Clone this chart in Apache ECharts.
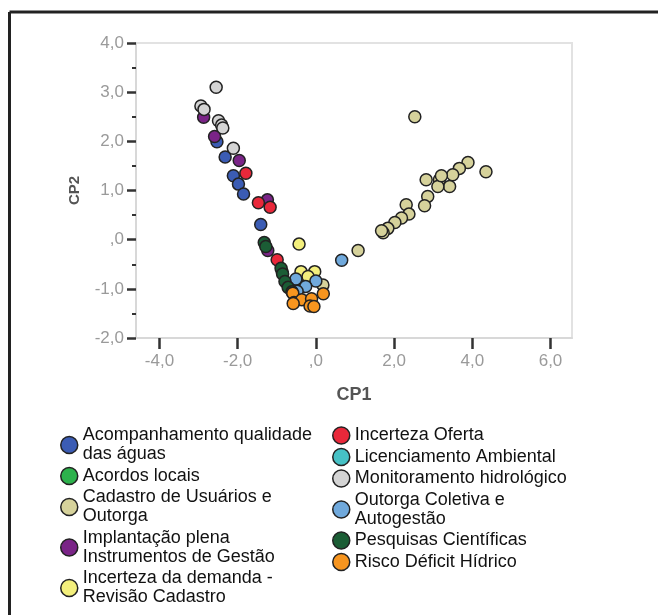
<!DOCTYPE html>
<html>
<head>
<meta charset="utf-8">
<script src="https://cdn.jsdelivr.net/npm/echarts@6/dist/echarts.min.js"></script>
<style>
  html, body { margin: 0; padding: 0; background: #fff; }
  #chart { width: 658px; height: 615px; }
</style>
</head>
<body>
<div id="chart"></div>
<script>
// CP1 / CP2 scores, one list per group
const acompanhamento = [[-2.53, 1.99], [-2.32, 1.68], [-2.11, 1.30], [-1.98, 1.13], [-1.85, 0.93], [-1.41, 0.31]]
const acordos = [[-0.86, -0.66]]
const cadastro = [
  [2.53, 2.50], [4.35, 1.38], [3.89, 1.57], [3.67, 1.45], [3.50, 1.32], [3.42, 1.08],
  [3.16, 1.22], [3.12, 1.08], [2.82, 1.22], [3.21, 1.30], [2.86, 0.88], [2.78, 0.69],
  [2.31, 0.71], [2.38, 0.52], [2.19, 0.44], [2.02, 0.35], [1.84, 0.23], [1.72, 0.14],
  [1.68, 0.18], [1.08, -0.22], [0.18, -0.92]
]
const implantacao = [[-2.87, 2.49], [-2.59, 2.10], [-1.96, 1.61], [-1.24, 0.81], [-1.23, -0.22]]
const incertezaDemanda = [[-0.43, -0.09], [-0.38, -0.65], [-0.03, -0.65], [-0.20, -0.75]]
const incertezaOferta = [[-1.79, 1.35], [-1.47, 0.75], [-1.17, 0.66], [-0.99, -0.41]]
const licenciamento = [[-0.30, -0.95]]
const monitoramento = [[-2.55, 3.10], [-2.94, 2.72], [-2.86, 2.65], [-2.49, 2.42], [-2.41, 2.33], [-2.38, 2.27], [-2.11, 1.86]]
const outorgaColetiva = [[-0.51, -0.80], [0.00, -0.84], [-0.26, -0.95], [-0.48, -1.05], [0.66, -0.42]]
const pesquisas = [[-1.32, -0.06], [-1.28, -0.14], [-0.89, -0.58], [-0.85, -0.70], [-0.79, -0.85], [-0.71, -0.97], [-0.61, -1.06]]
const risco = [[-0.59, -1.09], [-0.56, -1.28], [-0.36, -1.22], [-0.11, -1.20], [-0.15, -1.35], [-0.05, -1.36], [0.19, -1.10], [-0.58, -1.30]]

const xTicks = [-4, -2, 0, 2, 4, 6]

const groups = [
  { name: 'Acompanhamento qualidade das águas', label: 'Acompanhamento qualidade\ndas águas', color: '#3b5cb4', data: acompanhamento },
  { name: 'Acordos locais', label: 'Acordos locais', color: '#2db24c', data: acordos },
  { name: 'Cadastro de Usuários e Outorga', label: 'Cadastro de Usuários e\nOutorga', color: '#d6d29b', data: cadastro },
  { name: 'Implantação plena Instrumentos de Gestão', label: 'Implantação plena\nInstrumentos de Gestão', color: '#7a2487', data: implantacao },
  { name: 'Incerteza da demanda - Revisão Cadastro', label: 'Incerteza da demanda -\nRevisão Cadastro', color: '#f3ef7c', data: incertezaDemanda },
  { name: 'Incerteza Oferta', label: 'Incerteza Oferta', color: '#e9283a', data: incertezaOferta },
  { name: 'Licenciamento Ambiental', label: 'Licenciamento Ambiental', color: '#46c1c5', data: licenciamento },
  { name: 'Monitoramento hidrológico', label: 'Monitoramento hidrológico', color: '#d4d4d4', data: monitoramento },
  { name: 'Outorga Coletiva e Autogestão', label: 'Outorga Coletiva e\nAutogestão', color: '#70a9dc', data: outorgaColetiva },
  { name: 'Pesquisas Científicas', label: 'Pesquisas Científicas', color: '#1b5d35', data: pesquisas },
  { name: 'Risco Déficit Hídrico', label: 'Risco Déficit Hídrico', color: '#f7951f', data: risco }
]
const labelOf = {}
groups.forEach(g => { labelOf[g.name] = g.label })

const fmt = v => (v === 0 ? ',0' : v.toFixed(1).replace('.', ','))
const font = '"Liberation Sans", Arial, sans-serif'

const legendBase = {
  orient: 'vertical',
  icon: 'circle',
  itemWidth: 17,
  itemHeight: 17,
  itemGap: 2.5,
  selectedMode: false,
  itemStyle: { borderColor: '#222', borderWidth: 1.5 },
  textStyle: { fontFamily: font, fontSize: 18, lineHeight: 19, color: '#111' },
  formatter: name => labelOf[name]
}

const chart = echarts.init(document.getElementById('chart'))
chart.setOption({
  animation: false,
  textStyle: { fontFamily: font },
  graphic: [
    { type: 'line', shape: { x1: 9.5, y1: 12, x2: 658, y2: 12 }, style: { stroke: '#222', lineWidth: 3 } },
    { type: 'line', shape: { x1: 9.5, y1: 12, x2: 9.5, y2: 615 }, style: { stroke: '#222', lineWidth: 3 } }
  ],
  grid: {
    left: 136, right: 86, top: 43, bottom: 277,
    show: true, borderColor: '#e2e2e2', borderWidth: 2
  },
  legend: [
    Object.assign({}, legendBase, { left: 55, top: 421, data: groups.slice(0, 5).map(g => g.name) }),
    Object.assign({}, legendBase, { left: 327, top: 421, data: groups.slice(5).map(g => g.name) })
  ],
  xAxis: {
    type: 'value',
    min: -4.6,
    max: 6.55,
    name: 'CP1',
    nameLocation: 'middle',
    nameGap: 48,
    nameTextStyle: { fontSize: 18, fontWeight: 'bold', color: '#555' },
    splitLine: { show: false },
    axisLine: { show: true, onZero: false, lineStyle: { color: '#d8d8d8', width: 2 } },
    axisTick: { show: true, length: 11, customValues: xTicks, lineStyle: { color: '#333', width: 2.5 } },
    axisLabel: { customValues: xTicks, fontSize: 17, color: '#9a9a9a', margin: 15, formatter: fmt }
  },
  yAxis: {
    type: 'value',
    min: -2,
    max: 4,
    interval: 1,
    name: 'CP2',
    nameLocation: 'middle',
    nameGap: 54,
    nameTextStyle: { fontSize: 15, fontWeight: 'bold', color: '#555' },
    splitLine: { show: false },
    axisLine: { show: true, onZero: false, lineStyle: { color: '#d8d8d8', width: 2 } },
    axisTick: { show: true, length: 9, lineStyle: { color: '#333', width: 2.5 } },
    minorTick: { show: true, splitNumber: 2, length: 4, lineStyle: { color: '#333', width: 2 } },
    axisLabel: { fontSize: 17, color: '#9a9a9a', margin: 12, formatter: fmt }
  },
  series: groups.map(g => ({
    name: g.name,
    type: 'scatter',
    symbolSize: 12,
    data: g.data,
    itemStyle: { color: g.color, borderColor: '#222', borderWidth: 1.5, opacity: 1 }
  }))
})
</script>
</body>
</html>
